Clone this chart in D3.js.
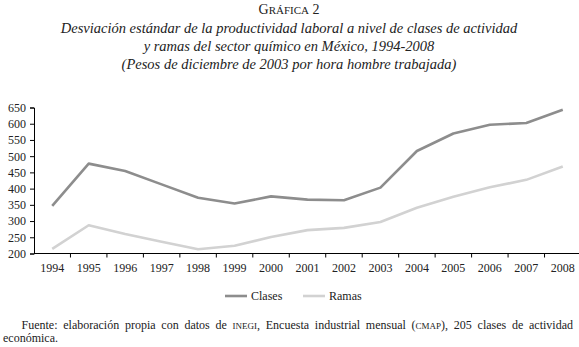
<!DOCTYPE html>
<html>
<head>
<meta charset="UTF-8"/>
<style>
  body { margin: 0; background: #fff; }
  svg { display: block; }
</style>
</head>
<body>
<svg width="579" height="347" style="font-family: 'Liberation Serif', 'Times New Roman', serif;"></svg>
<script src="https://d3js.org/d3.v7.min.js"></script>
<script>
  // data
  let years = ["1994", "1995", "1996", "1997", "1998", "1999", "2000", "2001",
               "2002", "2003", "2004", "2005", "2006", "2007", "2008"];
  let clases = [347, 477, 454, 413, 372, 354, 376, 366, 364, 403, 516, 570, 597, 602, 643];
  let ramas  = [214, 287, 260, 236, 213, 224, 251, 272, 279, 297, 341, 375, 404, 427, 468];
  let yTicks = [200, 250, 300, 350, 400, 450, 500, 550, 600, 650];
  let seriesNames = ["Clases", "Ramas"];
  let seriesColors = ["#8d8d8d", "#d2d2d2"];

  let serif = "'Liberation Serif', 'Times New Roman', serif";
  let svg = d3.select("svg");

  // title block
  let title = svg.append("g").attr("text-anchor", "middle").attr("fill", "#222");
  let t0 = title.append("text").attr("x", 289).attr("y", 14).style("font-size", "14px");
  t0.append("tspan").text("G");
  t0.append("tspan").style("font-size", "11px").text("RÁFICA");
  t0.append("tspan").text(" 2");
  let titleLines = [
    "Desviación estándar de la productividad laboral a nivel de clases de actividad",
    "y ramas del sector químico en México, 1994-2008",
    "(Pesos de diciembre de 2003 por hora hombre trabajada)"
  ];
  title.selectAll("text.sub").data(titleLines).enter().append("text")
    .attr("class", "sub")
    .attr("x", 289)
    .attr("y", (d, i) => 32.5 + i * 18)
    .style("font-size", "14.5px")
    .style("font-style", "italic")
    .text(d => d);

  // scales
  let x = d3.scaleBand().domain(years).range([34, 581]);
  let y = d3.scaleLinear().domain([200, 650]).range([253.5, 107.5]);

  // y axis
  let yAxis = svg.append("g")
    .attr("transform", "translate(34,0)")
    .call(d3.axisLeft(y).tickValues(yTicks).tickSize(4).tickPadding(4));
  yAxis.attr("font-family", serif).attr("font-size", 12);
  yAxis.selectAll("text").attr("fill", "#222");
  yAxis.selectAll("line,path").attr("stroke", "#000");

  // x axis with ticks between categories
  let xAxis = svg.append("g").attr("transform", "translate(0,253.5)");
  xAxis.append("line")
    .attr("x1", 34).attr("x2", 581)
    .attr("stroke", "#000");
  xAxis.selectAll("line.tick").data(years.slice(1)).enter().append("line")
    .attr("class", "tick")
    .attr("x1", d => x(d)).attr("x2", d => x(d))
    .attr("y1", 0).attr("y2", 4)
    .attr("stroke", "#000");
  xAxis.selectAll("text").data(years).enter().append("text")
    .attr("x", d => x(d) + x.bandwidth() / 2)
    .attr("y", 18)
    .attr("text-anchor", "middle")
    .attr("fill", "#222")
    .style("font-size", "12px")
    .text(d => d);

  // lines
  let line = d3.line()
    .x((d, i) => x(years[i]) + x.bandwidth() / 2)
    .y(d => y(d));
  [clases, ramas].forEach((s, k) => {
    svg.append("path")
      .datum(s)
      .attr("d", line)
      .attr("fill", "none")
      .attr("stroke", seriesColors[k])
      .attr("stroke-width", 2.6)
      .attr("stroke-linejoin", "round");
  });

  // legend
  let legendX = [225, 303];
  let legend = svg.append("g").attr("fill", "#222");
  seriesNames.forEach((name, k) => {
    legend.append("line")
      .attr("x1", legendX[k]).attr("x2", legendX[k] + 22)
      .attr("y1", 296).attr("y2", 296)
      .attr("stroke", seriesColors[k])
      .attr("stroke-width", 2.6);
    legend.append("text")
      .attr("x", legendX[k] + 26)
      .attr("y", 300)
      .style("font-size", "12px")
      .text(name);
  });

  // source note, justified to the right edge
  let note = svg.append("text").attr("x", 21.5).attr("y", 329)
    .attr("fill", "#222").style("font-size", "12px");
  note.append("tspan").text("Fuente: elaboración propia con datos de ");
  note.append("tspan").style("font-size", "9px").text("INEGI");
  note.append("tspan").text(", Encuesta industrial mensual (");
  note.append("tspan").style("font-size", "9px").text("CMAP");
  note.append("tspan").text("), 205 clases de actividad");
  let w = note.node().getComputedTextLength();
  let gaps = 14;
  let extra = (573 - 21.5 - w) / gaps;
  if (extra > 0) note.style("word-spacing", extra + "px");
  svg.append("text").attr("x", 3).attr("y", 342)
    .attr("fill", "#222").style("font-size", "12px").text("económica.");
</script>
</body>
</html>
